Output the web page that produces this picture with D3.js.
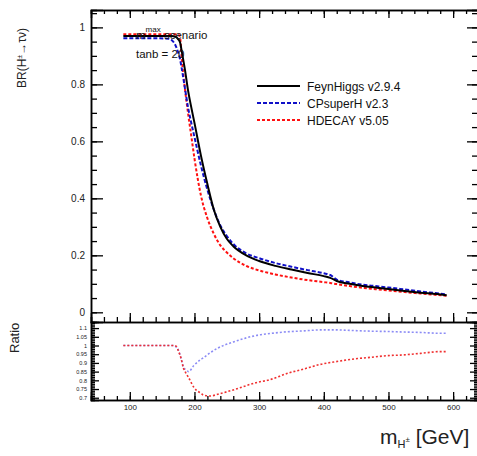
<!DOCTYPE html>
<html>
<head>
<meta charset="utf-8">
<script src="https://cdn.jsdelivr.net/npm/d3@7"></script>
<style>
  body { margin: 0; background: #fff; }
  svg { display: block; font-family: "Liberation Sans", Arial, sans-serif; }
  .domain { stroke: #000; stroke-width: 1.5; }
  .tick line { stroke: #000; stroke-width: 1.3; }
</style>
</head>
<body>
<div id="chart"></div>
<script>
// masses (GeV) where the BR curves were read
var massTop = [90, 100, 120, 140, 160, 165, 170, 175, 178, 180, 185, 190, 195, 200, 210, 220, 230, 240, 250, 260, 280, 300, 325, 350, 375, 400, 410, 420, 440, 460, 480, 500, 525, 550, 575, 590];
// BR(H+ -> tau nu) per program
var brFeynHiggs = [0.970, 0.970, 0.970, 0.970, 0.970, 0.970, 0.968, 0.958, 0.945, 0.92, 0.855, 0.78, 0.72, 0.665, 0.55, 0.45, 0.36, 0.30, 0.258, 0.232, 0.200, 0.180, 0.163, 0.150, 0.138, 0.127, 0.121, 0.110, 0.100, 0.092, 0.087, 0.082, 0.075, 0.069, 0.064, 0.060];
var brCPsuperH  = [0.962, 0.962, 0.962, 0.962, 0.960, 0.955, 0.940, 0.910, 0.885, 0.86, 0.79, 0.72, 0.665, 0.615, 0.515, 0.43, 0.36, 0.305, 0.268, 0.240, 0.207, 0.190, 0.173, 0.160, 0.148, 0.137, 0.131, 0.115, 0.105, 0.097, 0.092, 0.087, 0.080, 0.073, 0.067, 0.063];
var brHDECAY    = [0.976, 0.976, 0.976, 0.976, 0.976, 0.976, 0.976, 0.975, 0.960, 0.90, 0.79, 0.70, 0.62, 0.54, 0.41, 0.33, 0.275, 0.235, 0.210, 0.190, 0.163, 0.147, 0.133, 0.122, 0.113, 0.106, 0.103, 0.099, 0.092, 0.086, 0.081, 0.077, 0.071, 0.066, 0.061, 0.058];

// ratio panel (program / FeynHiggs)
var massRatio = [90, 120, 150, 168, 172, 175, 179, 183, 187, 191, 199, 210, 214, 225, 236, 260, 299, 313, 348, 364, 399, 415, 452, 467, 503, 518, 550, 580, 590];
var ratioCPsuperH = [1.0, 1.0, 1.0, 1.0, 0.99, 0.975, 0.93, 0.876, 0.86, 0.85, 0.885, 0.92, 0.93, 0.96, 0.985, 1.02, 1.06, 1.067, 1.08, 1.083, 1.09, 1.09, 1.085, 1.083, 1.08, 1.078, 1.075, 1.07, 1.07];
var ratioHDECAY   = [1.0, 1.0, 1.0, 1.0, 0.995, 0.97, 0.93, 0.87, 0.84, 0.815, 0.76, 0.725, 0.715, 0.71, 0.72, 0.745, 0.79, 0.80, 0.845, 0.86, 0.895, 0.905, 0.925, 0.93, 0.943, 0.945, 0.955, 0.965, 0.965];

var legendNames = ["FeynHiggs v2.9.4", "CPsuperH v2.3", "HDECAY v5.05"];
var brTicks = [0, 0.2, 0.4, 0.6, 0.8, 1];
var ratioTicks = [0.7, 0.75, 0.8, 0.85, 0.9, 0.95, 1, 1.05, 1.1];
var massTicks = [100, 200, 300, 400, 500, 600];

var width = 477, height = 456;

var svg = d3.select("#chart").append("svg")
    .attr("width", width)
    .attr("height", height);

// scales
var x = d3.scaleLinear().domain([40, 640]).range([91, 479]);
var yTop = d3.scaleLinear().domain([-0.034, 1.061]).range([322, 10]);
var yRat = d3.scaleLinear().domain([0.687, 1.135]).range([400, 322]);

var minorMass = d3.range(40, 641, 20);
var minorBR = d3.range(0, 1.06, 0.05);
var minorRatio = d3.range(0.69, 1.135, 0.01);

function drawAxis(axis, tx, ty) {
    return svg.append("g").attr("transform", "translate(" + tx + "," + ty + ")").call(axis);
}

// ---- top panel frame
drawAxis(d3.axisLeft(yTop).tickValues(minorBR).tickSize(-6).tickFormat(""), 91, 0);
drawAxis(d3.axisLeft(yTop).tickValues(brTicks).tickSize(-12).tickPadding(6)
    .tickFormat(function(d){ return d3.format("~g")(d); }), 91, 0)
    .selectAll("text").style("font-size", "10px");
drawAxis(d3.axisRight(yTop).tickValues(minorBR).tickSize(-6).tickFormat(""), 478, 0);
drawAxis(d3.axisRight(yTop).tickValues(brTicks).tickSize(-11).tickFormat(""), 478, 0);
drawAxis(d3.axisTop(x).tickValues(minorMass).tickSize(-4).tickFormat(""), 0, 10);
drawAxis(d3.axisTop(x).tickValues(massTicks).tickSize(-8).tickFormat(""), 0, 10);
drawAxis(d3.axisBottom(x).tickValues(minorMass).tickSize(-5).tickFormat(""), 0, 322);
drawAxis(d3.axisBottom(x).tickValues(massTicks).tickSize(-9).tickFormat(""), 0, 322);

// ---- ratio panel frame
drawAxis(d3.axisLeft(yRat).tickValues(minorRatio).tickSize(-4).tickFormat(""), 91, 0);
drawAxis(d3.axisLeft(yRat).tickValues(ratioTicks).tickSize(-8).tickPadding(4)
    .tickFormat(function(d){ return d3.format("~g")(d); }), 91, 0)
    .selectAll("text").style("font-size", "5.5px");
drawAxis(d3.axisRight(yRat).tickValues(minorRatio).tickSize(-4).tickFormat(""), 478, 0);
drawAxis(d3.axisRight(yRat).tickValues(ratioTicks).tickSize(-8).tickFormat(""), 478, 0);
drawAxis(d3.axisBottom(x).tickValues(minorMass).tickSize(-4).tickFormat(""), 0, 400);
drawAxis(d3.axisBottom(x).tickValues(massTicks).tickSize(-8).tickPadding(4)
    .tickFormat(d3.format("d")), 0, 400)
    .selectAll("text").style("font-size", "8px");

svg.selectAll(".tick text").attr("fill", "#222");

// ---- curves
var lineTop = function(ys) {
    return d3.line()
        .x(function(d, i){ return x(massTop[i]); })
        .y(function(d){ return yTop(d); })
        .curve(d3.curveMonotoneX)(ys);
};
var lineRat = function(ys) {
    return d3.line()
        .x(function(d, i){ return x(massRatio[i]); })
        .y(function(d){ return yRat(d); })
        .curve(d3.curveMonotoneX)(ys);
};

var topSeries = [
    {data: brHDECAY, color: "#ff1010", dash: "3,2", w: 2},
    {data: brCPsuperH, color: "#1010c8", dash: "4,2", w: 2},
    {data: brFeynHiggs, color: "#000", dash: null, w: 2}
];
svg.append("g").selectAll("path")
    .data(topSeries)
    .join("path")
    .attr("d", function(d){ return lineTop(d.data); })
    .attr("fill", "none")
    .attr("stroke", function(d){ return d.color; })
    .attr("stroke-width", function(d){ return d.w; })
    .attr("stroke-dasharray", function(d){ return d.dash; });

var ratioSeries = [
    {data: ratioCPsuperH, color: "#8c8cf5"},
    {data: ratioHDECAY, color: "#f03030"}
];
svg.append("g").selectAll("path")
    .data(ratioSeries)
    .join("path")
    .attr("d", function(d){ return lineRat(d.data); })
    .attr("fill", "none")
    .attr("stroke", function(d){ return d.color; })
    .attr("stroke-width", 1.6)
    .attr("stroke-dasharray", "2,2");

// ---- legend
var legStyle = [
    {color: "#000", dash: null},
    {color: "#1010c8", dash: "4,2"},
    {color: "#ff1010", dash: "3,2"}
];
var leg = svg.append("g").attr("transform", "translate(257,86)");
legendNames.forEach(function(name, i) {
    leg.append("line")
        .attr("x1", 0).attr("x2", 43)
        .attr("y1", i * 17).attr("y2", i * 17)
        .attr("stroke", legStyle[i].color)
        .attr("stroke-width", 1.8)
        .attr("stroke-dasharray", legStyle[i].dash);
    leg.append("text")
        .attr("x", 50).attr("y", i * 17 + 4.5)
        .style("font-size", "12px")
        .attr("fill", "#111")
        .text(name);
});

// ---- annotations
var ann = svg.append("text").attr("x", 136).attr("y", 39).style("font-size", "11.5px").attr("fill", "#111");
ann.append("tspan").text("m");
ann.append("tspan").attr("dy", -7).style("font-size", "8px").text("max");
ann.append("tspan").attr("dy", 7).text(" scenario");
svg.append("text").attr("x", 136).attr("y", 58).style("font-size", "11.5px").attr("fill", "#111").text("tanb = 20");

// ---- axis titles
var yt = svg.append("text")
    .attr("transform", "translate(26,88) rotate(-90)")
    .style("font-size", "12px").attr("fill", "#222");
yt.append("tspan").text("BR(H");
yt.append("tspan").attr("dy", -4).style("font-size", "7px").text("±");
yt.append("tspan").attr("dy", 4).text("→τν)");

svg.append("text")
    .attr("transform", "translate(19,353) rotate(-90)")
    .style("font-size", "13px").attr("fill", "#222")
    .text("Ratio");

var xt = svg.append("text").attr("x", 380).attr("y", 444).style("font-size", "21px").attr("fill", "#222");
xt.append("tspan").text("m");
xt.append("tspan").attr("dy", 4).style("font-size", "11px").text("H");
xt.append("tspan").attr("dy", -6).style("font-size", "8px").text("±");
xt.append("tspan").attr("dy", 2).text(" [GeV]");
</script>
</body>
</html>
